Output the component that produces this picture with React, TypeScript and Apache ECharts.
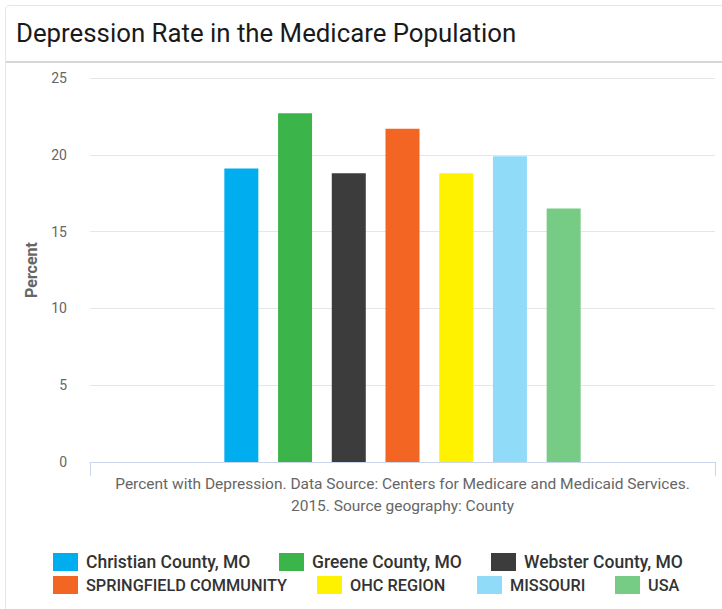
import React, { useEffect, useRef } from "react";
import * as echarts from "echarts";

const TITLE = "Depression Rate in the Medicare Population";
const X_TITLE = "Percent with Depression. Data Source: Centers for Medicare and Medicaid Services.\n2015. Source geography: County";
const Y_TITLE = "Percent";
const SERIES_NAMES = [
  "Christian County, MO",
  "Greene County, MO",
  "Webster County, MO",
  "SPRINGFIELD COMMUNITY",
  "OHC REGION",
  "MISSOURI",
  "USA",
];
const SERIES_VALUES = [19.1, 22.7, 18.8, 21.7, 18.8, 19.9, 16.5];
const SERIES_COLORS = ["#00AEEF", "#3BB54A", "#3C3C3C", "#F26522", "#FFF200", "#90DBF8", "#76CC84"];
const Y_MIN = 0;
const Y_MAX = 25;
const Y_STEP = 5;

// legend placement (square top-left corners)
const LEGEND_POS: [number, number][] = [
  [53, 553],
  [279, 553],
  [491, 553],
  [53, 576],
  [317, 576],
  [477, 576],
  [615, 576],
];

const FONT = "Roboto, 'Noto Sans', sans-serif";

export default function App() {
  const ref = useRef<HTMLDivElement>(null);
  useEffect(() => {
    if (!ref.current) return;
    const chart = echarts.init(ref.current, undefined, { renderer: "svg" });
    chart.setOption({
      animation: false,
      backgroundColor: "#ffffff",
      textStyle: { fontFamily: FONT },
      title: {
        text: TITLE,
        left: 11,
        top: 15,
        textStyle: { fontFamily: FONT, fontSize: 25.8, fontWeight: "normal", color: "#1a1a1a" },
      },
      graphic: [
        {
          type: "rect",
          shape: { x: 5.5, y: 5.5, width: 740, height: 640, r: 4 },
          style: { fill: "none", stroke: "#e6e6e6", lineWidth: 1 },
          silent: true,
          z: -10,
        },
        {
          type: "line",
          shape: { x1: 6, y1: 62, x2: 722, y2: 62 },
          style: { stroke: "#d6d6d6", lineWidth: 2 },
          silent: true,
        },
      ],
      legend: SERIES_NAMES.map((n, i) => ({
        data: [n],
        left: LEGEND_POS[i][0],
        top: LEGEND_POS[i][1],
        padding: 0,
        itemWidth: 25,
        itemHeight: 18,
        icon: "rect",
        selectedMode: false,
        textStyle: {
          fontFamily: FONT,
          fontSize: n === n.toUpperCase() ? 16.3 : 17.5,
          fontWeight: 500,
          color: "#333333",
          padding: [0, 0, 0, 3],
        },
      })),
      grid: { left: 90, right: 7, top: 78, bottom: 147, containLabel: false },
      xAxis: {
        type: "category",
        data: [""],
        name: X_TITLE,
        nameLocation: "middle",
        nameGap: 11,
        nameTextStyle: { fontFamily: FONT, fontSize: 15.5, color: "#666666", lineHeight: 22 },
        axisLine: { lineStyle: { color: "#ccd6eb", width: 1 } },
        axisTick: { show: true, length: 14, lineStyle: { color: "#ccd6eb" } },
        axisLabel: { show: false },
      },
      yAxis: {
        type: "value",
        min: Y_MIN,
        max: Y_MAX,
        interval: Y_STEP,
        name: Y_TITLE,
        nameLocation: "middle",
        nameRotate: 90,
        nameGap: 51,
        nameTextStyle: { fontFamily: FONT, fontSize: 16, fontWeight: "bold", color: "#666666" },
        axisLine: { show: false },
        axisTick: { show: false },
        axisLabel: { fontFamily: FONT, fontSize: 14, color: "#666666", margin: 23 },
        splitLine: { lineStyle: { color: "#e6e6e6", width: 1 } },
      },
      series: SERIES_NAMES.map((n, i) => ({
        name: n,
        type: "bar",
        data: [SERIES_VALUES[i]],
        barWidth: 34,
        barGap: "58%",
        itemStyle: { color: SERIES_COLORS[i] },
      })),
    });
    return () => chart.dispose();
  }, []);
  return (
    <div
      ref={ref}
      style={{ position: "fixed", left: 0, top: 0, width: 722, height: 609 }}
    />
  );
}
